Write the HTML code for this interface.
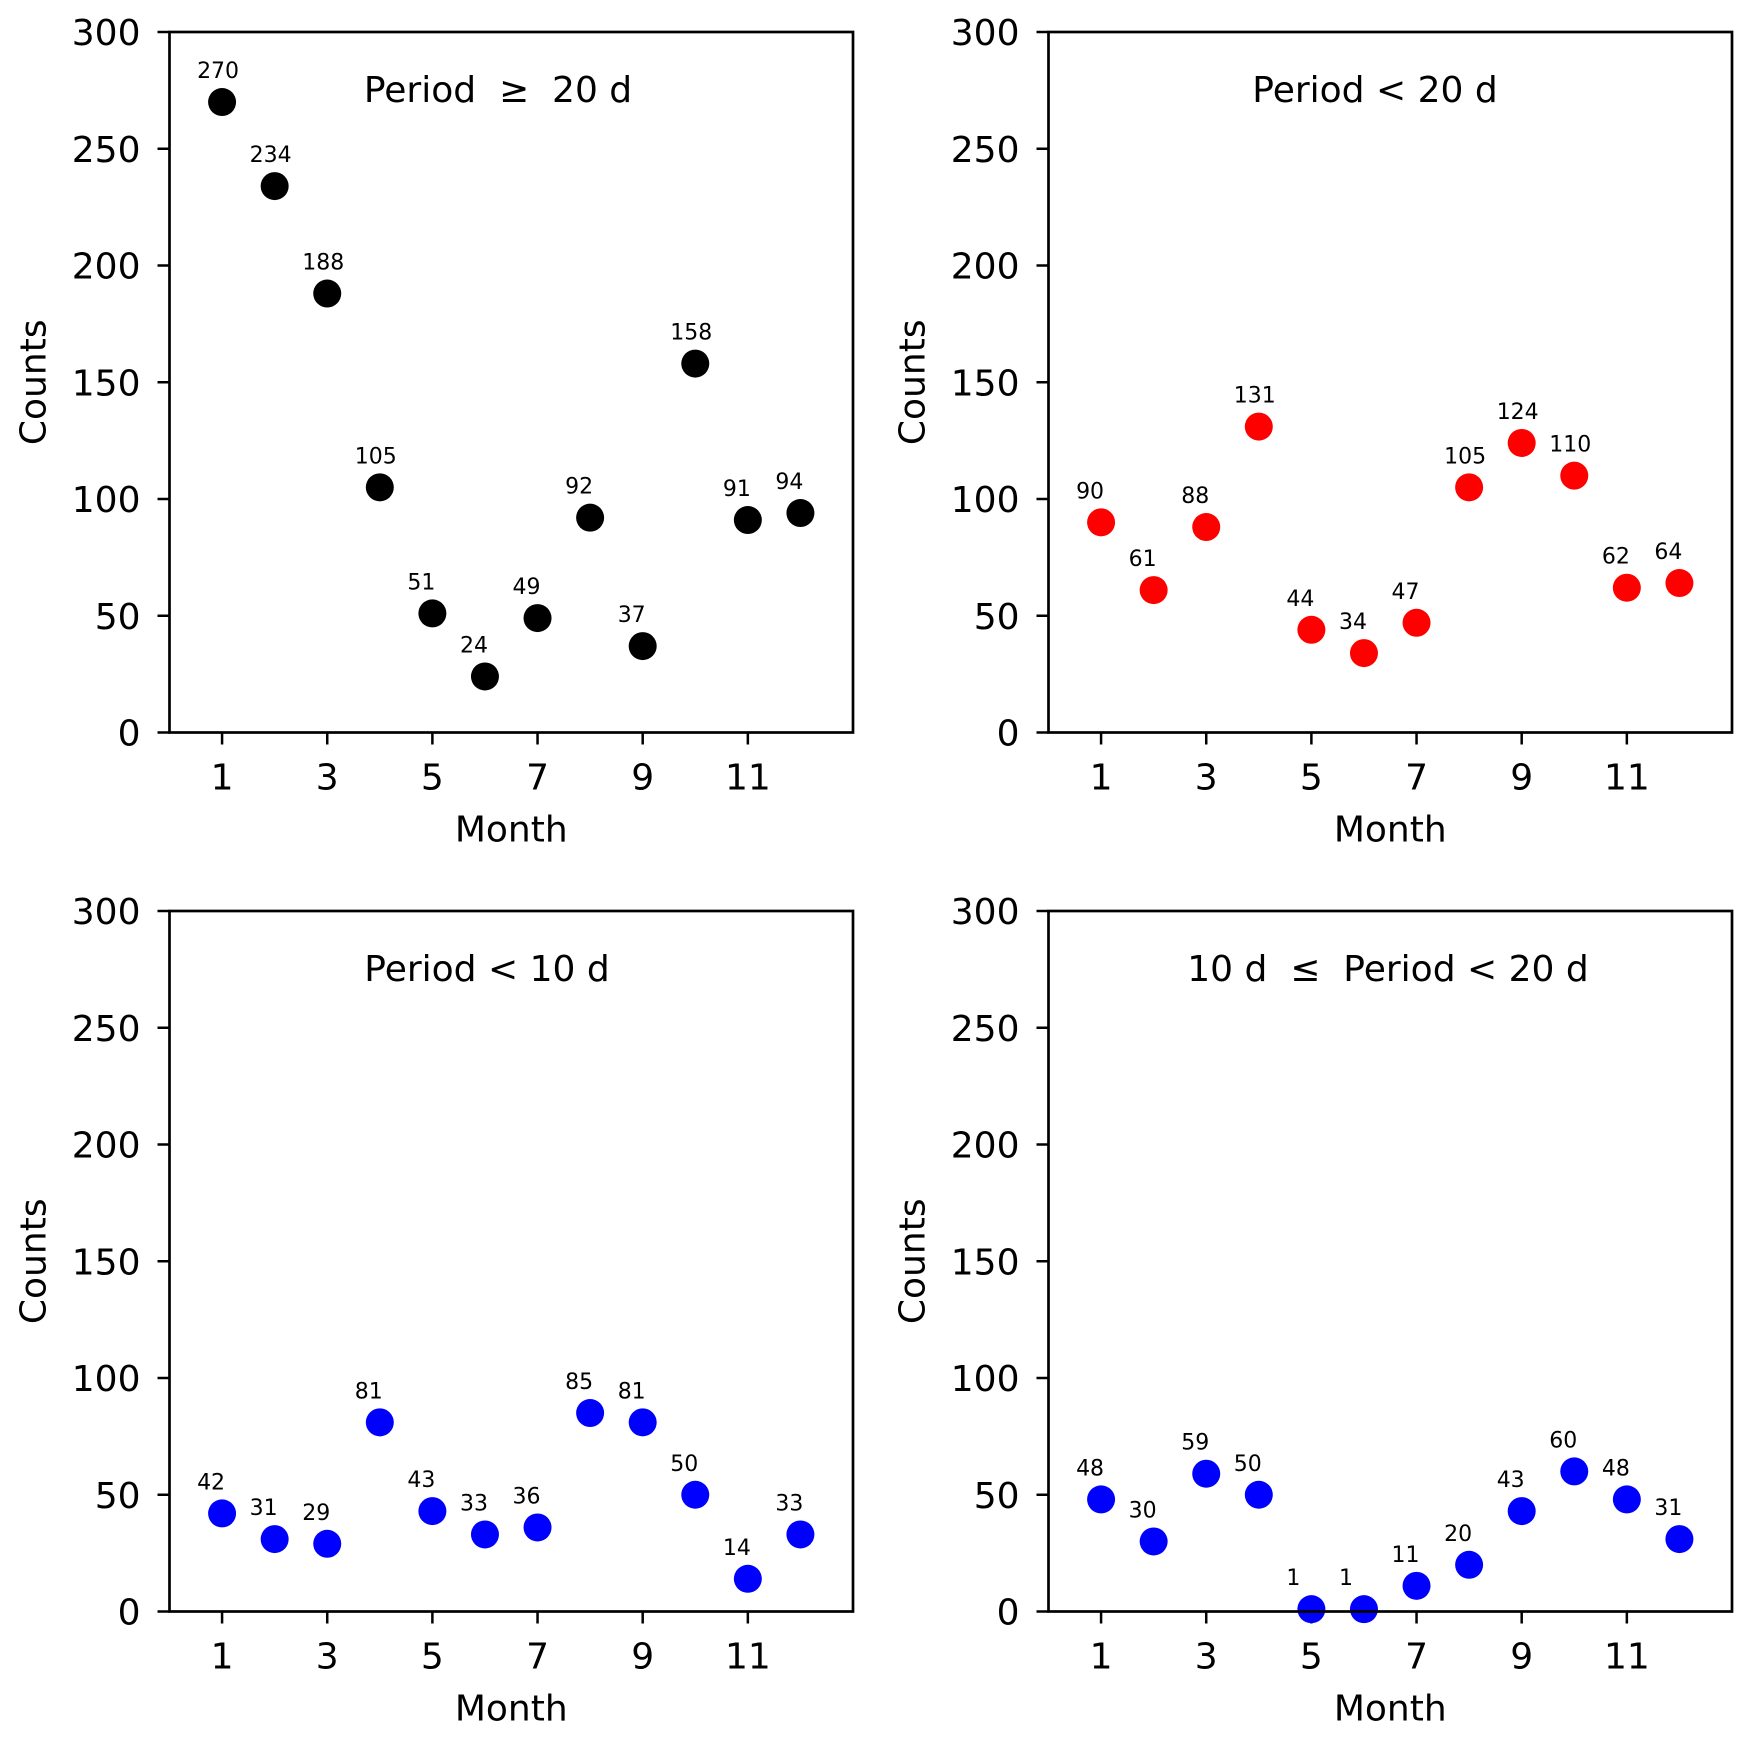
<!DOCTYPE html>
<html><head><meta charset="utf-8"><style>
html,body{margin:0;padding:0;background:#fff;}
svg{display:block;font-family:"DejaVu Sans","Liberation Sans",sans-serif;}
</style></head><body>
<svg id="fig" width="1752" height="1740" viewBox="0 0 1752 1740"></svg>
<script>
const months = [1,2,3,4,5,6,7,8,9,10,11,12];
const seriesGe20 = [270,234,188,105,51,24,49,92,37,158,91,94];
const seriesLt20 = [90,61,88,131,44,34,47,105,124,110,62,64];
const seriesLt10 = [42,31,29,81,43,33,36,85,81,50,14,33];
const series10to20 = [48,30,59,50,1,1,11,20,43,60,48,31];
const yTicks = [0,50,100,150,200,250,300];
const xTicks = [1,3,5,7,9,11];
const titles = ["Period \u00a0\u2265\u00a0 20 d","Period < 20 d","Period < 10 d","10 d \u00a0\u2264\u00a0 Period < 20 d"];

const NS="http://www.w3.org/2000/svg";
const svg=document.getElementById('fig');
function mk(tag,attrs,parent){const e=document.createElementNS(NS,tag);for(const k in attrs)e.setAttribute(k,attrs[k]);(parent||svg).appendChild(e);return e;}

const panels=[
 {x0:169.5,y0:32,vals:seriesGe20,color:'#000',title:titles[0],tx:498,name:'panel-period-ge-20'},
 {x0:1048.5,y0:32,vals:seriesLt20,color:'#ff0000',title:titles[1],tx:1375,name:'panel-period-lt-20'},
 {x0:169.5,y0:911,vals:seriesLt10,color:'#0000ff',title:titles[2],tx:487,name:'panel-period-lt-10'},
 {x0:1048.5,y0:911,vals:series10to20,color:'#0000ff',title:titles[3],tx:1388,name:'panel-period-10-20'}
];
const W=683.5,H=700.5;
panels.forEach(p=>{
  const g=mk('g',{});
  
  
  const sx=m=>p.x0+m/13*W;
  const sy=v=>p.y0+H-v/300*H;
  yTicks.forEach(t=>{
    const l=mk('line',{x1:p.x0-12,x2:p.x0,y1:sy(t),y2:sy(t),stroke:'#000','stroke-width':2.5},g);
    
    
    const tx=mk('text',{x:p.x0-29,y:sy(t)+13,'text-anchor':'end','font-size':36},g);
    tx.textContent=t;
    
    
  });
  xTicks.forEach(t=>{
    const l=mk('line',{x1:sx(t),x2:sx(t),y1:p.y0+H,y2:p.y0+H+12,stroke:'#000','stroke-width':2.5},g);
    
    
    const tx=mk('text',{x:sx(t),y:p.y0+H+57,'text-anchor':'middle','font-size':36},g);
    tx.textContent=t;
    
    
  });
  p.vals.forEach((v,i)=>{
    const c=mk('circle',{cx:sx(months[i]),cy:sy(v),r:14,fill:p.color},g);
    
    
    const a=mk('text',{x:sx(months[i])-25,y:sy(v)-24,'font-size':22},g);
    a.textContent=v;
    
    
  });
  const fr=mk('rect',{x:p.x0,y:p.y0,width:W,height:H,fill:'none',stroke:'#000','stroke-width':2.7},g);
  
  
  const tt=mk('text',{x:p.tx,y:p.y0+70,'text-anchor':'middle','font-size':36,style:'white-space:pre'},g);
  tt.textContent=p.title;
  
  
  const xl=mk('text',{x:p.x0+W/2,y:p.y0+H+109,'text-anchor':'middle','font-size':36},g);
  xl.textContent='Month';
  
  
  const cy=p.y0+H/2, cx=p.x0-124;
  const yl=mk('text',{x:cx,y:cy,'text-anchor':'middle','font-size':36,transform:`rotate(-90 ${cx} ${cy})`},g);
  yl.textContent='Counts';
  
  
});
</script>
</body></html>
